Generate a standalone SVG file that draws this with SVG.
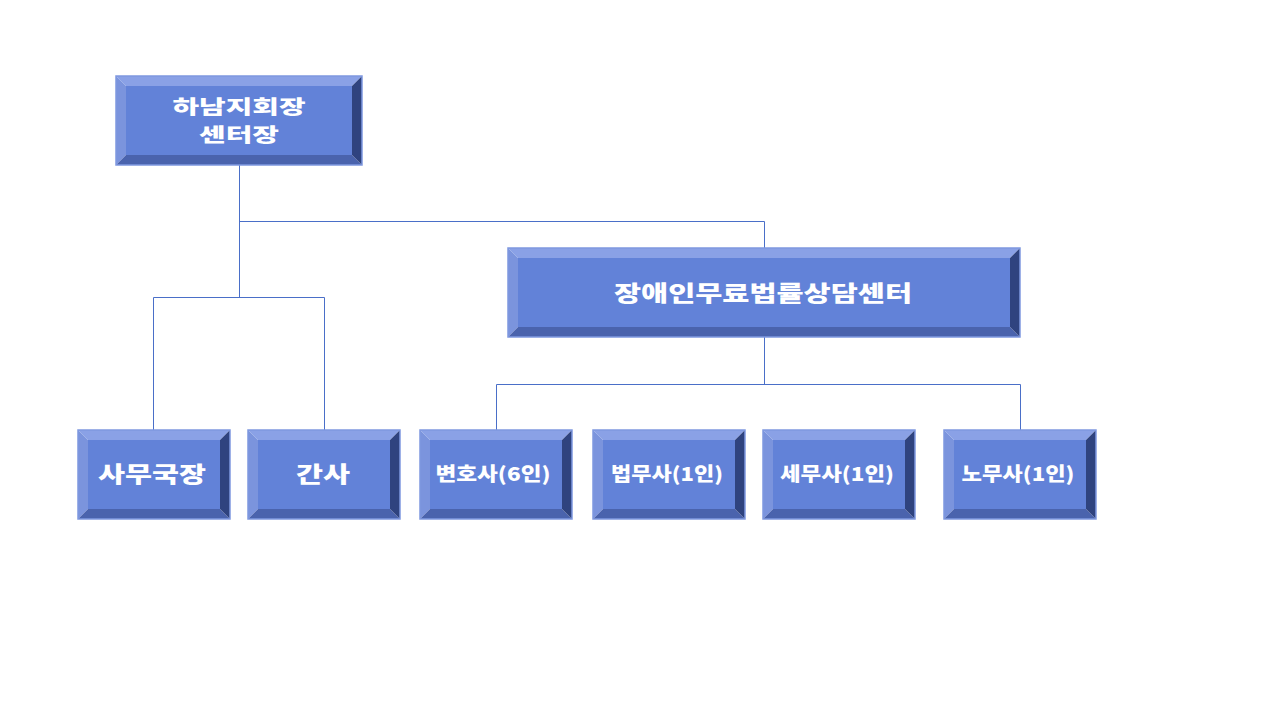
<svg xmlns="http://www.w3.org/2000/svg" width="1280" height="720" viewBox="0 0 1280 720">
<style>
.face{fill:#6282d8}
.top{fill:#8aa1e6}
.left{fill:#7b94dd}
.bot{fill:#4a63ad}
.right{fill:#2f437f}
.edge{fill:none;stroke:#7f98e0;stroke-width:1.5}
.lbl{font-family:"Noto Sans CJK KR","Noto Sans",sans-serif;font-weight:900;fill:#ffffff;text-anchor:middle}
.conn{fill:none;stroke:#4a6fc8;stroke-width:1}
</style>
<rect width="1280" height="720" fill="#ffffff"/>
<g id="connectors">
<path class="conn" d="M239.5 165V297.5M239.5 221.5H764.5V248"/>
<path class="conn" d="M153.5 430V297.5H324.5V430"/>
<path class="conn" d="M764.5 337V384.5M496.5 430V384.5H1020.5V430"/>
</g>
<g id="n1">
<polygon class="top" points="116,76 362,76 352,86 126,86"/>
<polygon class="left" points="116,76 126,86 126,155 116,165"/>
<polygon class="bot" points="116,165 126,155 352,155 362,165"/>
<polygon class="right" points="362,76 362,165 352,155 352,86"/>
<rect class="face" x="126" y="86" width="226" height="69"/>
<rect class="edge" x="116" y="76" width="246" height="89"/>
<text class="lbl" x="239" y="114" font-size="19" textLength="133" lengthAdjust="spacingAndGlyphs">하남지회장</text>
<text class="lbl" x="239" y="142" font-size="19" textLength="80" lengthAdjust="spacingAndGlyphs">센터장</text>
</g>
<g id="n2">
<polygon class="top" points="508,248 1020,248 1010,258 518,258"/>
<polygon class="left" points="508,248 518,258 518,327 508,337"/>
<polygon class="bot" points="508,337 518,327 1010,327 1020,337"/>
<polygon class="right" points="1020,248 1020,337 1010,327 1010,258"/>
<rect class="face" x="518" y="258" width="492" height="69"/>
<rect class="edge" x="508" y="248" width="512" height="89"/>
<text class="lbl" x="763" y="301" font-size="22" textLength="298" lengthAdjust="spacingAndGlyphs">장애인무료법률상담센터</text>
</g>
<g id="n3">
<polygon class="top" points="78,430 230,430 220,440 88,440"/>
<polygon class="left" points="78,430 88,440 88,509 78,519"/>
<polygon class="bot" points="78,519 88,509 220,509 230,519"/>
<polygon class="right" points="230,430 230,519 220,509 220,440"/>
<rect class="face" x="88" y="440" width="132" height="69"/>
<rect class="edge" x="78" y="430" width="152" height="89"/>
<text class="lbl" x="152" y="482" font-size="22" textLength="108" lengthAdjust="spacingAndGlyphs">사무국장</text>
</g>
<g id="n4">
<polygon class="top" points="248,430 400,430 390,440 258,440"/>
<polygon class="left" points="248,430 258,440 258,509 248,519"/>
<polygon class="bot" points="248,519 258,509 390,509 400,519"/>
<polygon class="right" points="400,430 400,519 390,509 390,440"/>
<rect class="face" x="258" y="440" width="132" height="69"/>
<rect class="edge" x="248" y="430" width="152" height="89"/>
<text class="lbl" x="323" y="482" font-size="22" textLength="54" lengthAdjust="spacingAndGlyphs">간사</text>
</g>
<g id="n5">
<polygon class="top" points="420,430 572,430 562,440 430,440"/>
<polygon class="left" points="420,430 430,440 430,509 420,519"/>
<polygon class="bot" points="420,519 430,509 562,509 572,519"/>
<polygon class="right" points="572,430 572,519 562,509 562,440"/>
<rect class="face" x="430" y="440" width="132" height="69"/>
<rect class="edge" x="420" y="430" width="152" height="89"/>
<text class="lbl" x="493" y="481" font-size="19" textLength="115" lengthAdjust="spacingAndGlyphs">변호사(6인)</text>
</g>
<g id="n6">
<polygon class="top" points="593,430 745,430 735,440 603,440"/>
<polygon class="left" points="593,430 603,440 603,509 593,519"/>
<polygon class="bot" points="593,519 603,509 735,509 745,519"/>
<polygon class="right" points="745,430 745,519 735,509 735,440"/>
<rect class="face" x="603" y="440" width="132" height="69"/>
<rect class="edge" x="593" y="430" width="152" height="89"/>
<text class="lbl" x="667" y="481" font-size="19" textLength="112" lengthAdjust="spacingAndGlyphs">법무사(1인)</text>
</g>
<g id="n7">
<polygon class="top" points="763,430 915,430 905,440 773,440"/>
<polygon class="left" points="763,430 773,440 773,509 763,519"/>
<polygon class="bot" points="763,519 773,509 905,509 915,519"/>
<polygon class="right" points="915,430 915,519 905,509 905,440"/>
<rect class="face" x="773" y="440" width="132" height="69"/>
<rect class="edge" x="763" y="430" width="152" height="89"/>
<text class="lbl" x="837" y="481" font-size="19" textLength="114" lengthAdjust="spacingAndGlyphs">세무사(1인)</text>
</g>
<g id="n8">
<polygon class="top" points="944,430 1096,430 1086,440 954,440"/>
<polygon class="left" points="944,430 954,440 954,509 944,519"/>
<polygon class="bot" points="944,519 954,509 1086,509 1096,519"/>
<polygon class="right" points="1096,430 1096,519 1086,509 1086,440"/>
<rect class="face" x="954" y="440" width="132" height="69"/>
<rect class="edge" x="944" y="430" width="152" height="89"/>
<text class="lbl" x="1018" y="481" font-size="19" textLength="113" lengthAdjust="spacingAndGlyphs">노무사(1인)</text>
</g>
</svg>
